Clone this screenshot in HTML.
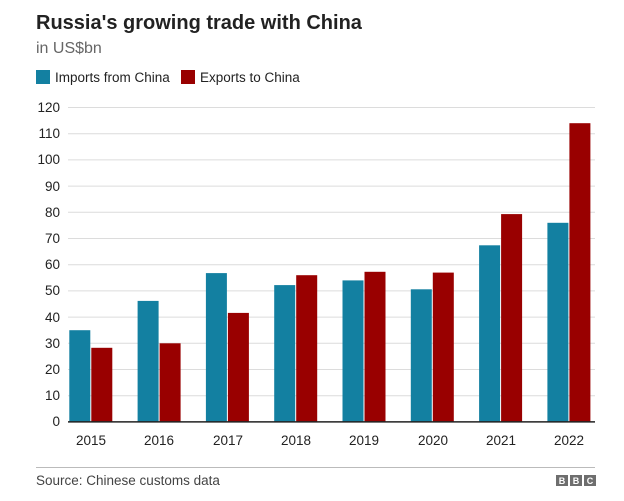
<!DOCTYPE html>
<html><head><style>
body{margin:0;background:#fff;font-family:"Liberation Sans",sans-serif;}
</style></head><body>
<svg width="624" height="496" xmlns="http://www.w3.org/2000/svg" font-family="Liberation Sans, sans-serif">
<rect width="624" height="496" fill="#fff"/>
<text x="36" y="29" font-size="20" font-weight="bold" fill="#222">Russia's growing trade with China</text>
<text x="36" y="53" font-size="16" fill="#666">in US$bn</text>
<rect x="36" y="70" width="14" height="14" fill="#1380a1"/>
<text x="55" y="82" font-size="13.5" fill="#222">Imports from China</text>
<rect x="181" y="70" width="14" height="14" fill="#990000"/>
<text x="200" y="82" font-size="13.5" fill="#222">Exports to China</text>
<g stroke="#dcdcdc" stroke-width="1">
<line x1="68" x2="595" y1="107.5" y2="107.5"/><line x1="68" x2="595" y1="133.7" y2="133.7"/>
<line x1="68" x2="595" y1="159.9" y2="159.9"/><line x1="68" x2="595" y1="186.1" y2="186.1"/>
<line x1="68" x2="595" y1="212.3" y2="212.3"/><line x1="68" x2="595" y1="238.5" y2="238.5"/>
<line x1="68" x2="595" y1="264.7" y2="264.7"/><line x1="68" x2="595" y1="290.9" y2="290.9"/>
<line x1="68" x2="595" y1="317.1" y2="317.1"/><line x1="68" x2="595" y1="343.3" y2="343.3"/>
<line x1="68" x2="595" y1="369.5" y2="369.5"/><line x1="68" x2="595" y1="395.7" y2="395.7"/>
</g>
<g font-size="13.5" fill="#222" text-anchor="end">
<text x="60" y="112">120</text><text x="60" y="138">110</text><text x="60" y="164">100</text>
<text x="60" y="191">90</text><text x="60" y="217">80</text><text x="60" y="243">70</text>
<text x="60" y="269">60</text><text x="60" y="295">50</text><text x="60" y="322">40</text>
<text x="60" y="348">30</text><text x="60" y="374">20</text><text x="60" y="400">10</text>
<text x="60" y="426">0</text>
</g>
<g fill="#1380a1">
<rect x="69.3" y="330.2" width="21" height="91.7"/>
<rect x="137.6" y="300.9" width="21" height="121"/>
<rect x="205.9" y="273.1" width="21" height="148.8"/>
<rect x="274.2" y="285.1" width="21" height="136.8"/>
<rect x="342.5" y="280.4" width="21" height="141.5"/>
<rect x="410.8" y="289.3" width="21" height="132.6"/>
<rect x="479.1" y="245.3" width="21" height="176.6"/>
<rect x="547.4" y="222.8" width="21" height="199.1"/>
</g>
<g fill="#990000">
<rect x="91.3" y="347.8" width="21" height="74.1"/>
<rect x="159.6" y="343.3" width="21" height="78.6"/>
<rect x="227.9" y="312.9" width="21" height="109"/>
<rect x="296.2" y="275.2" width="21" height="146.7"/>
<rect x="364.5" y="271.8" width="21" height="150.1"/>
<rect x="432.8" y="272.6" width="21" height="149.3"/>
<rect x="501.1" y="214.1" width="21" height="207.8"/>
<rect x="569.4" y="123.2" width="21" height="298.7"/>
</g>
<line x1="68" x2="595" y1="421.9" y2="421.9" stroke="#222" stroke-width="1.5"/>
<g font-size="13.5" fill="#222" text-anchor="middle">
<text x="91" y="445">2015</text><text x="159" y="445">2016</text><text x="228" y="445">2017</text>
<text x="296" y="445">2018</text><text x="364" y="445">2019</text><text x="433" y="445">2020</text>
<text x="501" y="445">2021</text><text x="569" y="445">2022</text>
</g>
<line x1="36" x2="595" y1="467.5" y2="467.5" stroke="#bbb" stroke-width="1"/>
<text x="36" y="485" font-size="13.5" fill="#444">Source: Chinese customs data</text>
<g font-size="9" font-weight="bold" fill="#fff" text-anchor="middle">
<rect x="556" y="475" width="12" height="11" fill="#6e6e6e"/><text x="562" y="484">B</text>
<rect x="570" y="475" width="12" height="11" fill="#6e6e6e"/><text x="576" y="484">B</text>
<rect x="584" y="475" width="12" height="11" fill="#6e6e6e"/><text x="590" y="484">C</text>
</g>
</svg>
</body></html>
